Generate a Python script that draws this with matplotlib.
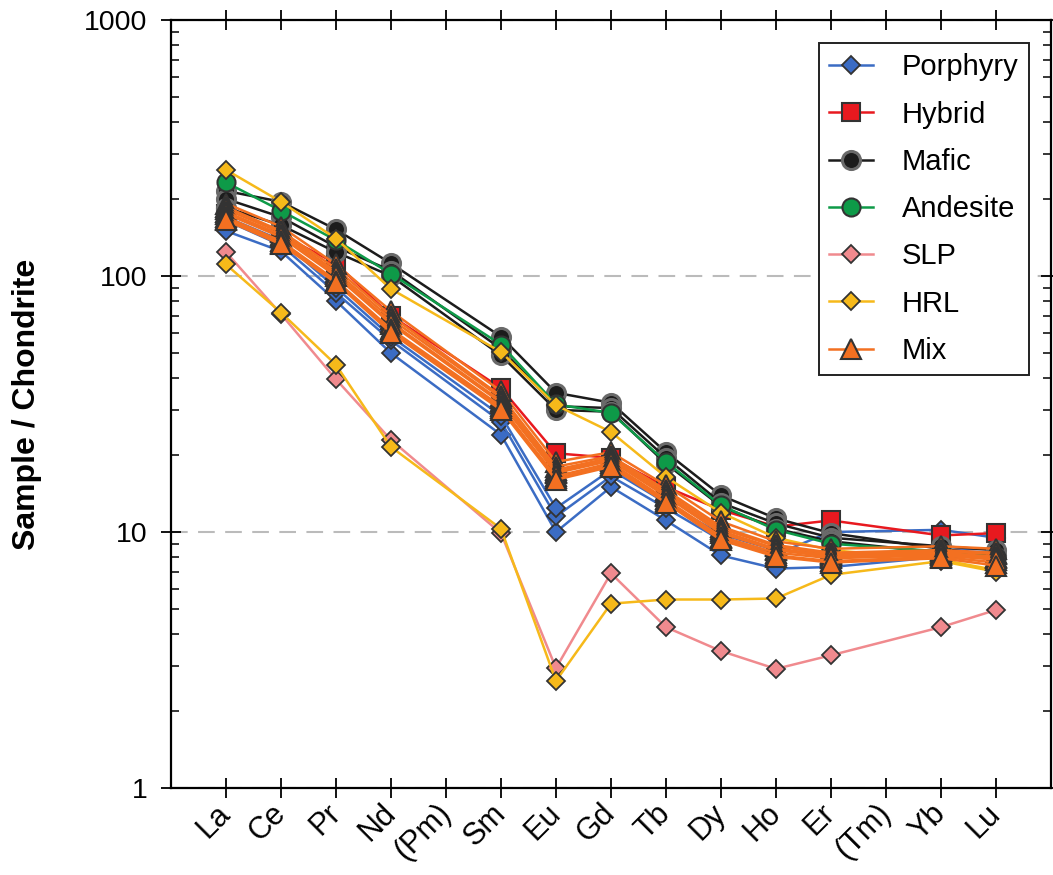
import numpy as np
import matplotlib.pyplot as plt
from matplotlib.ticker import LogLocator, NullFormatter, FixedLocator

plt.rcParams['font.family'] = ['Liberation Sans', 'DejaVu Sans']

elements = ["La", "Ce", "Pr", "Nd", "(Pm)", "Sm", "Eu", "Gd", "Tb", "Dy", "Ho", "Er", "(Tm)", "Yb", "Lu"]
measured = ["La", "Ce", "Pr", "Nd", "Sm", "Eu", "Gd", "Tb", "Dy", "Ho", "Er", "Yb", "Lu"]

# chondrite normalised values, one row per sample
porphyry = [
    [150, 125, 80, 50, 24, 10.0, 15.0, 11.1, 8.1, 7.2, 7.3, 8.0, 8.0],
    [165, 132, 86, 56, 27, 11.5, 16.5, 12.4, 9.3, 8.2, 10.0, 10.2, 9.5],
    [170, 138, 90, 58, 28.5, 12.4, 17.5, 13.0, 9.8, 8.5, 8.2, 8.5, 8.6],
]
hybrid = [
    [175, 145, 112, 70, 36.5, 20.3, 19.5, 15.0, 12.2, 10.5, 11.1, 9.7, 9.9],
]
mafic = [
    [215, 195, 152, 112, 58, 35, 32, 20.5, 13.9, 11.3, 9.9, 8.6, 8.1],
    [200, 170, 130, 105, 52, 31, 30.5, 19.5, 13.0, 10.8, 9.5, 8.8, 8.5],
    [185, 158, 124, 100, 49, 30, 29.5, 18.5, 12.6, 10.3, 9.2, 8.3, 8.0],
]
andesite = [
    [232, 180, 138, 102, 54, 31.5, 29.2, 18.8, 12.7, 10.2, 9.0, 8.4, 8.0],
]
slp = [
    [124, 71, 39.5, 22.9, 9.9, 2.94, 6.9, 4.25, 3.43, 2.92, 3.3, 4.25, 4.96],
]
hrl = [
    [260, 195, 140, 89, 50.5, 31.3, 24.6, 16.4, 11.9, 9.5, 8.5, 7.8, 7.1],
    [111, 72, 45, 21.5, 10.3, 2.62, 5.25, 5.45, 5.45, 5.5, 6.8, 7.7, 7.0],
]
mix = [
    [192, 156, 111, 73, 35.5, 18.8, 20.5, 15.2, 11.0, 9.2, 8.6, 8.8, 8.6],
    [186, 150, 107, 70, 34, 18.0, 19.8, 14.6, 10.5, 8.9, 8.3, 8.5, 8.3],
    [182, 148, 104, 68, 33.5, 17.5, 19.5, 14.3, 10.3, 8.8, 8.2, 8.4, 8.2],
    [178, 145, 102, 66, 32.5, 17.2, 19.2, 14.0, 10.1, 8.6, 8.1, 8.3, 8.0],
    [175, 142, 100, 65, 32, 17.0, 19.0, 13.8, 9.9, 8.5, 8.0, 8.2, 7.9],
    [170, 137, 96, 62, 31, 16.2, 18.3, 13.2, 9.5, 8.1, 7.7, 8.0, 7.6],
    [167, 135, 95, 61, 30.5, 16.5, 18.6, 13.4, 9.6, 8.3, 7.9, 8.1, 7.8],
    [165, 133, 94, 60, 30, 16.0, 18.0, 13.0, 9.3, 8.0, 7.6, 7.9, 7.4],
]

groups = [
    ("Porphyry", porphyry, "#3b6cc4", "D", 9.5, "#333333", 1.3),
    ("Hybrid", hybrid, "#e8191f", "s", 12.5, "#333333", 1.5),
    ("Mafic", mafic, "#1c1c1c", "o", 13, "#6a6a6a", 2.2),
    ("Andesite", andesite, "#0e9a48", "o", 13, "#333333", 1.5),
    ("SLP", slp, "#f08a8e", "D", 9.5, "#333333", 1.3),
    ("HRL", hrl, "#f6b91a", "D", 9.5, "#333333", 1.3),
    ("Mix", mix, "#f37021", "^", 15, "#333333", 1.5),
]

xpos = [elements.index(e) + 1 for e in measured]

fig = plt.figure(figsize=(10.53, 8.75), dpi=100)
ax = fig.add_axes([0.1624, 0.0994, 0.8356, 0.8777])

handles = []
for name, samples, col, mk, ms, ec, ew in groups:
    for i, vals in enumerate(samples):
        ln, = ax.plot(xpos, vals, color=col, lw=1.8, marker=mk, ms=ms,
                      mfc=col, mec=ec, mew=ew)
        if i == 0:
            handles.append((ln, name))

ax.set_yscale("log")
ax.set_ylim(1, 1000)
ax.set_xlim(0, 16)

ax.yaxis.set_major_locator(LogLocator(base=10, numticks=10))
ax.yaxis.set_minor_locator(LogLocator(base=10, subs=np.arange(2, 10), numticks=20))
ax.yaxis.set_minor_formatter(NullFormatter())
ax.set_yticks([1, 10, 100, 1000])
ax.set_yticklabels(["1", "10", "100", "1000"])

ax.xaxis.set_major_locator(FixedLocator(range(1, 16)))
ax.set_xticklabels(elements, rotation=45, ha="right", va="center",
                   rotation_mode="anchor")

ax.tick_params(axis="y", which="major", direction="inout", length=14, width=1.3,
               labelsize=20.5, pad=10, left=True, right=True)
ax.tick_params(axis="y", which="minor", direction="in", length=6, width=1.1,
               left=True, right=True)
ax.tick_params(axis="x", which="major", direction="inout", length=14, width=1.3,
               labelsize=22, pad=8, top=True)

for s in ax.spines.values():
    s.set_linewidth(1.6)

ax.grid(axis="y", which="major", color="#bbbbbb", linestyle=(0, (8, 5)), lw=1.5)
ax.set_axisbelow(True)

ax.set_ylabel("Sample / Chondrite", fontsize=23, fontweight="bold", labelpad=30)

leg = ax.legend([h for h, n in handles], [n for h, n in handles],
                loc="upper right", bbox_to_anchor=(0.975, 0.970), borderaxespad=0,
                fontsize=21, numpoints=1, handlelength=1.5, handletextpad=1.0,
                labelspacing=0.66, borderpad=0.35, fancybox=False, framealpha=1)
leg.get_frame().set_edgecolor("#222222")
leg.get_frame().set_linewidth(1.4)

fig.savefig("out.png", dpi=100)
